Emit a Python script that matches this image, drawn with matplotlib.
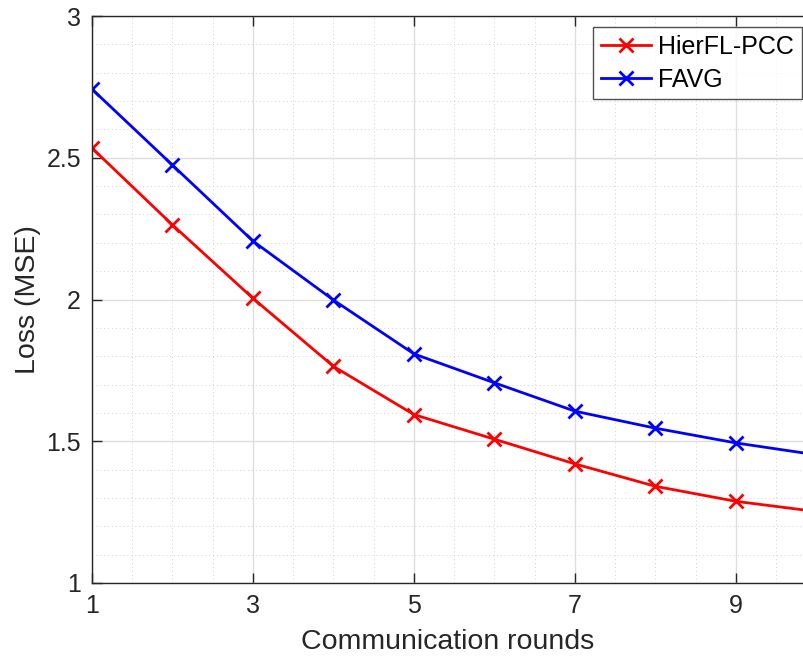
import matplotlib.pyplot as plt
from matplotlib.ticker import MultipleLocator

rounds = [1, 2, 3, 4, 5, 6, 7, 8, 9, 10]
hierfl_pcc = [2.534, 2.263, 2.004, 1.764, 1.594, 1.507, 1.420, 1.341, 1.288, 1.252]
favg = [2.742, 2.474, 2.206, 1.998, 1.808, 1.706, 1.606, 1.546, 1.494, 1.452]

plt.rcParams.update({"font.family": ["Liberation Sans", "DejaVu Sans"], "font.size": 18})
fig = plt.figure(figsize=(8.04, 6.59), dpi=100)
ax = fig.add_axes([92 / 804, 1 - 583 / 659, 712 / 804, 567 / 659])

ax.plot(rounds, hierfl_pcc, color="#ff0000", marker="x", lw=2.0, ms=10, mew=2.0,
        label="HierFL-PCC")
ax.plot(rounds, favg, color="#0000ff", marker="x", lw=2.0, ms=10, mew=2.0,
        label="FAVG")

ax.set_xlim(1, 1 + 712 / 80.5)
ax.set_ylim(1, 3)
ax.set_xticks([1, 3, 5, 7, 9])
ax.set_yticks([1, 1.5, 2, 2.5, 3])
ax.set_yticklabels(["1", "1.5", "2", "2.5", "3"])
ax.xaxis.set_minor_locator(MultipleLocator(0.5))
ax.yaxis.set_minor_locator(MultipleLocator(0.1))
ax.grid(True, which="major", color="#dedede", lw=1.0)
ax.grid(True, which="minor", color="#d2d2d2", lw=0.7, linestyle=(0, (1, 3)))
ax.set_axisbelow(True)
ax.tick_params(which="major", direction="in", length=7, width=1.0, top=True, right=False,
               colors="#262626", labelsize=18, pad=8)
ax.tick_params(which="minor", length=0)
for s in ax.spines.values():
    s.set_color("#262626")
    s.set_linewidth(1.0)

ax.set_xlabel("Communication rounds", fontsize=20.5, color="#262626", labelpad=8)
ax.set_ylabel("Loss (MSE)", fontsize=20.5, color="#262626", labelpad=4)

leg = ax.legend(loc="upper right", bbox_to_anchor=(0.997, 0.98), fontsize=18,
                frameon=True, fancybox=False, edgecolor="#262626", borderpad=0.3,
                handlelength=2.0, handletextpad=0.3, labelspacing=0.35, borderaxespad=0)
leg.get_frame().set_linewidth(1.0)

fig.savefig("out.png", dpi=100)
